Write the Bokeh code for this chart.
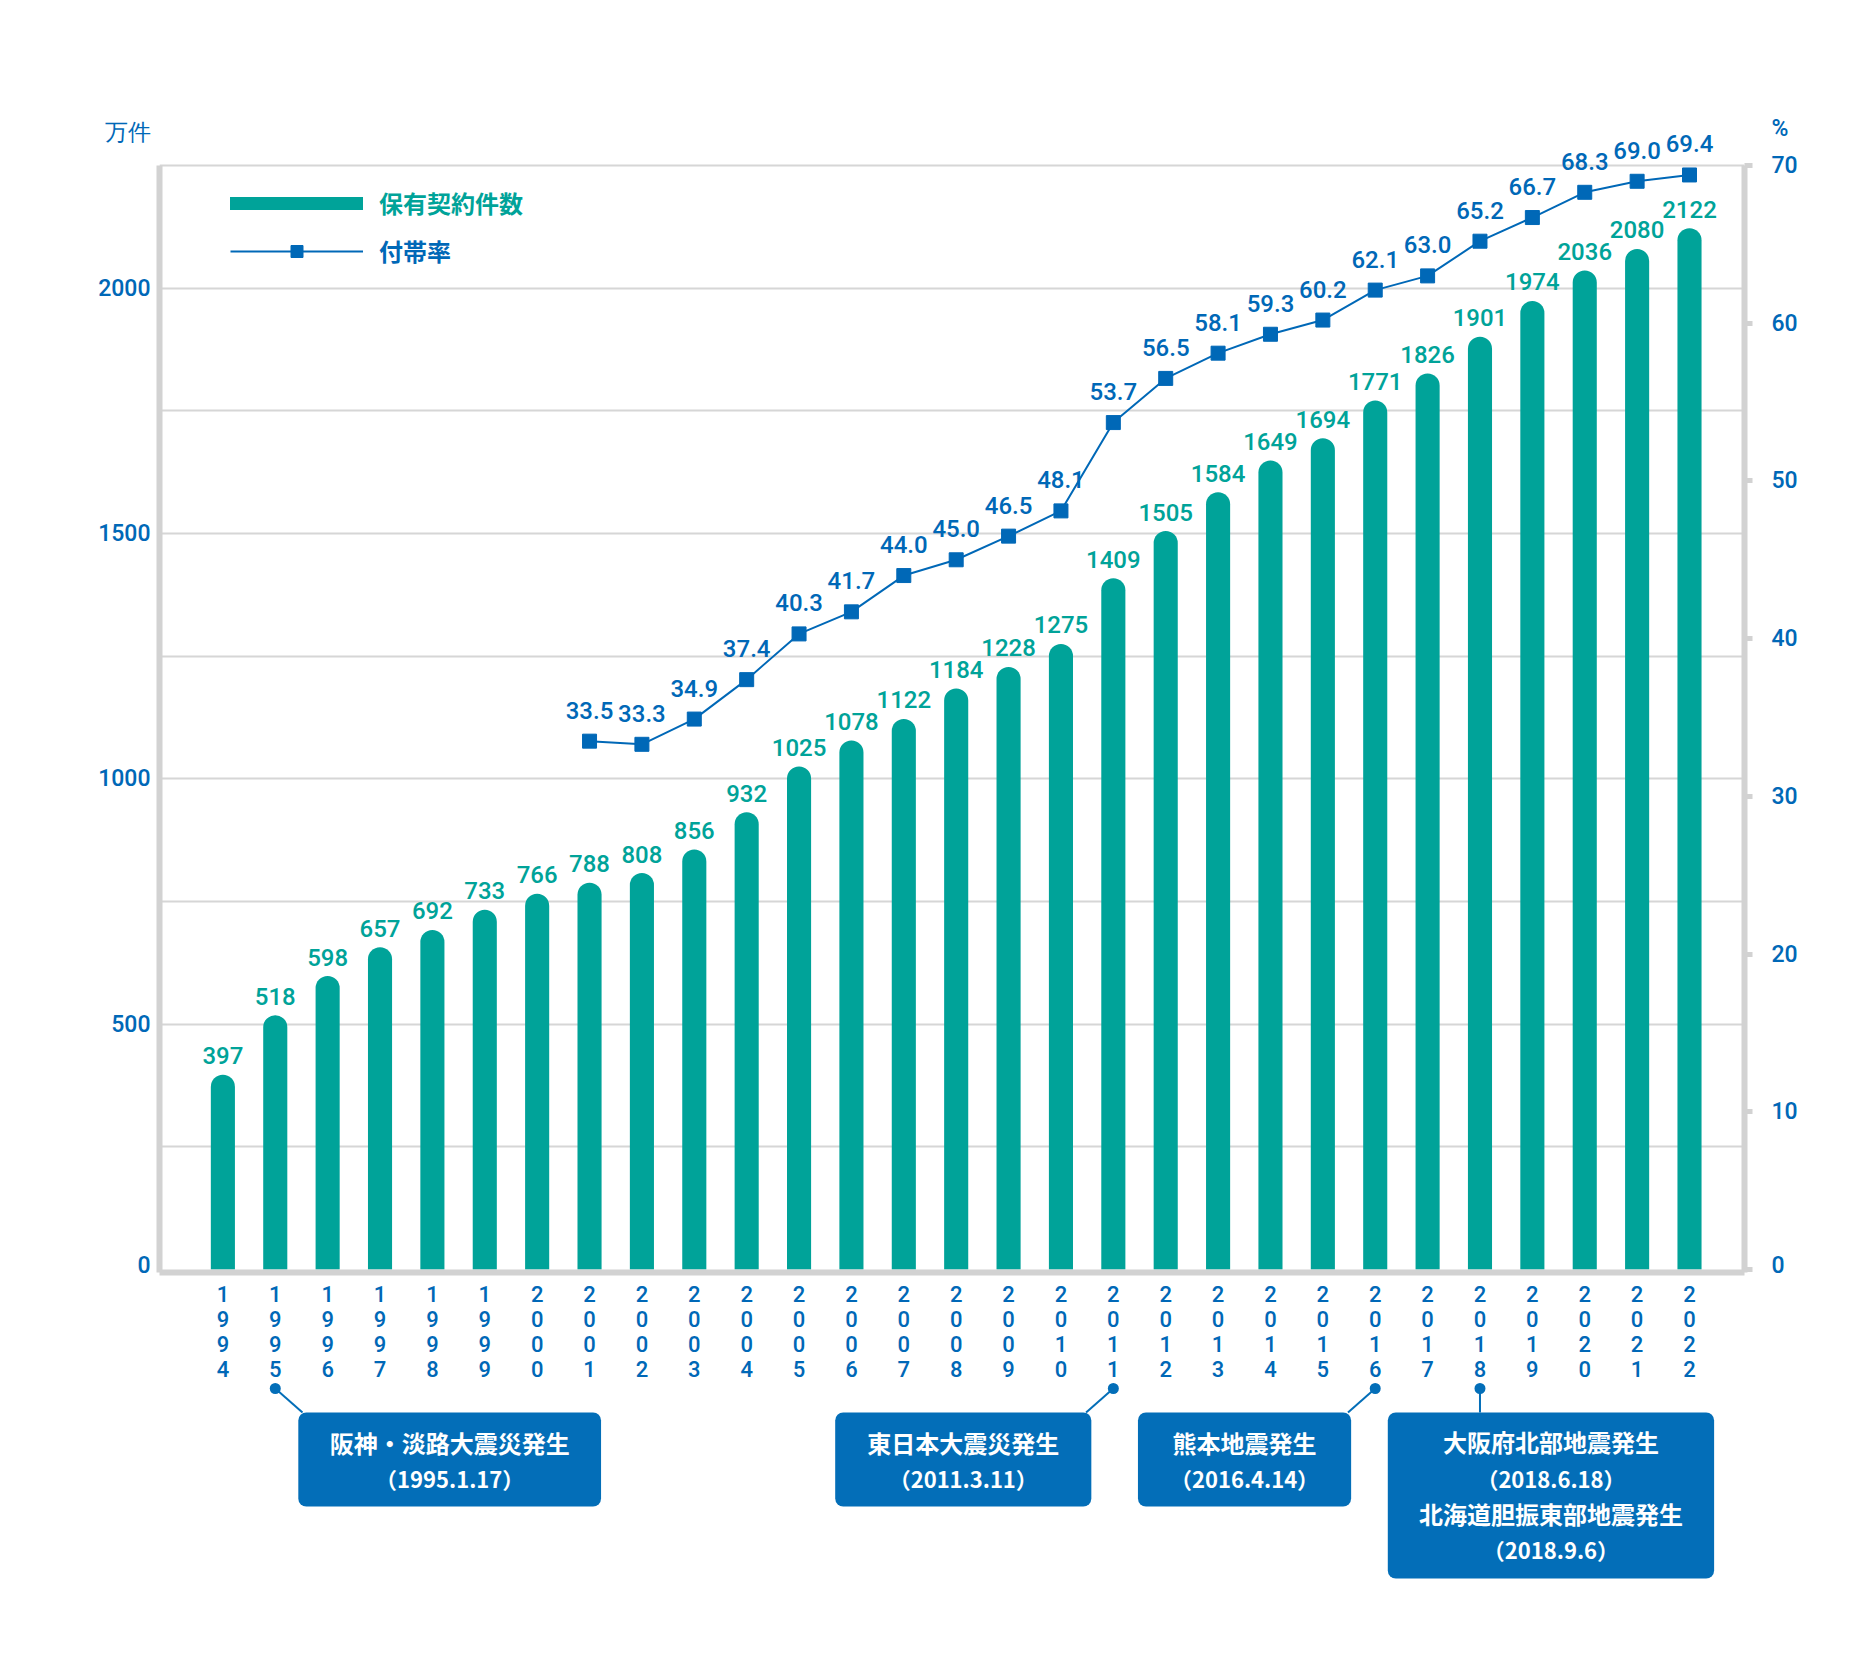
from bokeh.plotting import figure
from bokeh.models import (Range1d, LinearAxis, FixedTicker, Grid, Legend,
                          LegendItem)
from bokeh.layouts import column
from bokeh.embed import file_html
from bokeh.resources import INLINE
from bokeh.core.properties import value

# ---------------- data ----------------
years = ["1994", "1995", "1996", "1997", "1998", "1999", "2000", "2001", "2002",
         "2003", "2004", "2005", "2006", "2007", "2008", "2009", "2010", "2011",
         "2012", "2013", "2014", "2015", "2016", "2017", "2018", "2019", "2020",
         "2021", "2022"]
contracts = [397, 518, 598, 657, 692, 733, 766, 788, 808, 856, 932, 1025, 1078,
             1122, 1184, 1228, 1275, 1409, 1505, 1584, 1649, 1694, 1771, 1826,
             1901, 1974, 2036, 2080, 2122]
rate_years = ["2001", "2002", "2003", "2004", "2005", "2006", "2007", "2008",
              "2009", "2010", "2011", "2012", "2013", "2014", "2015", "2016",
              "2017", "2018", "2019", "2020", "2021", "2022"]
rates = [33.5, 33.3, 34.9, 37.4, 40.3, 41.7, 44.0, 45.0, 46.5, 48.1, 53.7, 56.5,
         58.1, 59.3, 60.2, 62.1, 63.0, 65.2, 66.7, 68.3, 69.0, 69.4]
left_ticks = [0, 500, 1000, 1500, 2000]
grid_ticks = [250, 500, 750, 1000, 1250, 1500, 1750, 2000, 2250]
right_ticks = [0, 10, 20, 30, 40, 50, 60, 70]
series_names = ["保有契約件数", "付帯率"]
unit_left = "万件"
unit_right = "%"
event_years = ["1995", "2011", "2016", "2018"]
event_lines = [
    ["阪神・淡路大震災発生", "（1995.1.17）"],
    ["東日本大震災発生", "（2011.3.11）"],
    ["熊本地震発生", "（2016.4.14）"],
    ["大阪府北部地震発生", "（2018.6.18）", "北海道胆振東部地震発生", "（2018.9.6）"],
]

# ---------------- styles ----------------
TEAL = "#00A399"
BLUE = "#0068B7"
BOX = "#036EB8"
GRID = "#D6D6D6"
AXIS = "#D2D2D2"
NUM_FONT = "Roboto Medium, Roboto"
JP_FONT = "Noto Sans CJK JP"

W = 1876
LEFT_MAX, RIGHT_MAX = 2250, 70
Y0, Y1 = -6.114, 2402.85          # left range incl. room above / below
P0, P1 = -0.1902, 74.7554          # matching right range
UNIT_LEFT_AT, UNIT_RIGHT_AT = 2317, 72.35

xs = list(range(len(years)))
rate_x = [years.index(y) for y in rate_years]
x_range = Range1d(-1.21, 29.05)

p = figure(width=W, height=1278, x_range=x_range, y_range=Range1d(Y0, Y1),
           output_backend="svg", toolbar_location=None, x_axis_type=None,
           y_axis_type=None, min_border_left=159, min_border_right=132,
           min_border_top=90, min_border_bottom=6, outline_line_color=None,
           background_fill_color="white", border_fill_color="white")
p.extra_y_ranges = {"pct": Range1d(P0, P1)}

# grid
p.add_layout(Grid(dimension=1, ticker=FixedTicker(ticks=grid_ticks),
                  grid_line_color=GRID, grid_line_width=2))

# bottom axis (line only; year labels drawn below)
xaxis = LinearAxis(ticker=FixedTicker(ticks=[]))
xaxis.axis_line_color = AXIS
xaxis.axis_line_width = 6
xaxis.major_tick_line_color = None
xaxis.minor_tick_line_color = None
xaxis.major_label_standoff = 0
p.add_layout(xaxis, "below")

# left: axis line, then labels
l1 = LinearAxis(ticker=FixedTicker(ticks=[]), bounds=(Y0, LEFT_MAX))
l1.axis_line_color = AXIS
l1.axis_line_width = 6
l1.major_tick_line_color = None
l1.minor_tick_line_color = None
l1.major_label_standoff = 0
p.add_layout(l1, "left")

l2 = LinearAxis(ticker=FixedTicker(ticks=left_ticks + [UNIT_LEFT_AT]),
                major_label_overrides={UNIT_LEFT_AT: unit_left})
l2.axis_line_color = None
l2.major_tick_line_color = None
l2.minor_tick_line_color = None
l2.major_label_standoff = 3
l2.major_label_text_font = NUM_FONT
l2.major_label_text_font_size = "23px"
l2.major_label_text_color = BLUE
p.add_layout(l2, "left")

# right: axis line with ticks, then labels
r1 = LinearAxis(y_range_name="pct", ticker=FixedTicker(ticks=right_ticks),
                bounds=(P0, RIGHT_MAX),
                major_label_overrides={t: "" for t in right_ticks})
r1.axis_line_color = AXIS
r1.axis_line_width = 6
r1.major_tick_line_color = AXIS
r1.major_tick_line_width = 5
r1.major_tick_out = 8
r1.major_tick_in = 0
r1.minor_tick_line_color = None
r1.major_label_standoff = 0
p.add_layout(r1, "right")

r2 = LinearAxis(y_range_name="pct",
                ticker=FixedTicker(ticks=right_ticks + [UNIT_RIGHT_AT]),
                major_label_overrides={UNIT_RIGHT_AT: unit_right})
r2.axis_line_color = None
r2.major_tick_line_color = None
r2.minor_tick_line_color = None
r2.major_label_standoff = 13
r2.major_label_text_font = NUM_FONT
r2.major_label_text_font_size = "23px"
r2.major_label_text_color = BLUE
p.add_layout(r2, "right")

# bars
p.vbar(x=xs, top=contracts, bottom=0, width=0.46, fill_color=TEAL,
       line_color=None, border_radius=(12, 12, 0, 0))
p.text(x=xs, y=contracts, text=[str(v) for v in contracts],
       text_align="center", text_baseline="alphabetic", y_offset=-19,
       text_font=value(NUM_FONT), text_font_size="24px",
       text_color=TEAL)

# rate line
rl = p.line(x=rate_x, y=rates, y_range_name="pct", line_color=BLUE,
            line_width=2)
rs = p.scatter(x=rate_x, y=rates, y_range_name="pct", marker="square",
               size=14, fill_color=BLUE, line_color=BLUE)
p.text(x=rate_x, y=rates, y_range_name="pct",
       text=["%.1f" % v for v in rates], text_align="center",
       text_baseline="alphabetic", y_offset=-31, text_font=value(NUM_FONT),
       text_font_size="24px", text_color=BLUE)

# legend
dummy = p.line(x=[float("nan")], y=[float("nan")], line_color=TEAL,
               line_width=13, line_cap="round")
H = 30
leg1 = Legend(items=[LegendItem(label=series_names[0], renderers=[dummy])],
              location=(71, 1052), glyph_width=133, glyph_height=H,
              label_height=H, label_standoff=16, padding=0, margin=0,
              border_line_color=None, background_fill_alpha=0,
              label_text_font=JP_FONT, label_text_font_size="24px",
              label_text_font_style="bold", label_text_color=TEAL)
leg2 = Legend(items=[LegendItem(label=series_names[1], renderers=[rl, rs])],
              location=(71, 1004), glyph_width=133, glyph_height=H,
              label_height=H, label_standoff=16, padding=0, margin=0,
              border_line_color=None, background_fill_alpha=0,
              label_text_font=JP_FONT, label_text_font_size="24px",
              label_text_font_style="bold", label_text_color=BLUE)
p.add_layout(leg1)
p.add_layout(leg2)

# ---------------- year labels + event annotations ----------------
q = figure(width=W, height=398, x_range=x_range,
           y_range=Range1d(1676, 1278), output_backend="svg",
           toolbar_location=None, x_axis_type=None, y_axis_type=None,
           min_border_left=159, min_border_right=132, min_border_top=0,
           min_border_bottom=0, outline_line_color=None,
           background_fill_color="white", border_fill_color="white")

q.text(x=xs, y=[1331] * len(xs), text=["\n".join(y) for y in years],
       text_align="center", text_baseline="middle", text_line_height=1.0,
       text_font=value(NUM_FONT), text_font_size="22px", text_color=BLUE)

box_left = [1.44, 11.69, 17.47, 22.24]
box_right = [7.22, 16.58, 21.54, 28.47]
box_top = [1412, 1412, 1412, 1412]
box_bottom = [1506, 1506, 1506, 1578]
conn_end_x = [1.52, 16.48, 21.48, 24.0]
line_y_sets = [[1442, 1477], [1442, 1477], [1442, 1477], [1441, 1477, 1513, 1548]]

ev_x = [years.index(y) for y in event_years]
q.quad(left=box_left, right=box_right, top=box_top, bottom=box_bottom,
       fill_color=BOX, line_color=None, border_radius=8)
q.segment(x0=ev_x, y0=[1388] * 4, x1=conn_end_x, y1=[1412] * 4,
          line_color=BOX, line_width=2)
q.scatter(x=ev_x, y=[1388] * 4, size=11, fill_color=BOX, line_color=None)

tx, ty, tt, dx, dy, dt = [], [], [], [], [], []
for i, lines in enumerate(event_lines):
    cx = (box_left[i] + box_right[i]) / 2
    for j, t in enumerate(lines):
        if j % 2 == 0:
            tx.append(cx); ty.append(line_y_sets[i][j]); tt.append(t)
        else:
            dx.append(cx); dy.append(line_y_sets[i][j]); dt.append(t)
q.text(x=tx, y=ty, text=tt, text_align="center", text_baseline="middle",
       text_font=value(JP_FONT), text_font_size="24px",
       text_font_style="bold", text_color="white")
q.text(x=dx, y=dy, text=dt, text_align="center", text_baseline="middle",
       text_font=value(JP_FONT), text_font_size="22px",
       text_font_style="bold", text_color="white")

layout = column(p, q, spacing=0)
open("out.html", "w").write(file_html(layout, INLINE))
